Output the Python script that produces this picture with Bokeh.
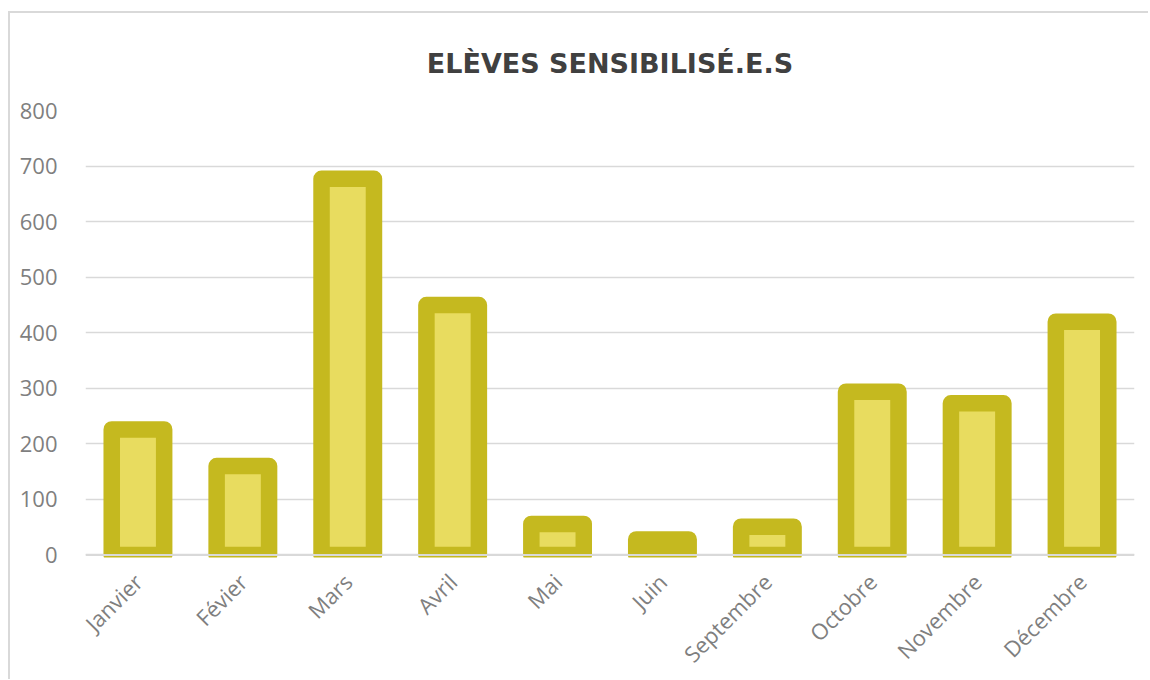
import math
from bokeh.plotting import figure
from bokeh.models import ColumnDataSource, Range1d, FixedTicker, Span
from bokeh.embed import file_html
from bokeh.resources import INLINE

months = ["Janvier", "Févier", "Mars", "Avril", "Mai", "Juin",
          "Septembre", "Octobre", "Novembre", "Décembre"]
values = [226, 160, 677, 450, 56, 28, 51, 294, 273, 420]
y_ticks = [0, 100, 200, 300, 400, 500, 600, 700, 800]
title_text = "ELÈVES SENSIBILISÉ.E.S"

src = ColumnDataSource(dict(month=months, value=values))

p = figure(x_range=months, y_range=Range1d(-4.5, 800),
           width=1140, height=668, output_backend="svg",
           toolbar_location=None, title=title_text,
           min_border_left=75, min_border_right=16,
           min_border_top=97, min_border_bottom=123)
p.styles = {"border-left": "2px solid #d9d9d9", "border-top": "2px solid #d9d9d9",
            "margin-top": "11px", "margin-left": "8px", "box-sizing": "border-box"}

p.vbar(x="month", top="value", bottom=0, width=0.5, source=src,
       fill_color="#E8DC5F", line_color="#C5B91F", line_width=16.5,
       line_join="round")

p.add_layout(Span(location=0, dimension="width", line_color="#d9d9d9",
                  line_width=2, level="overlay"))

p.title.align = "center"
p.title.text_font = "DejaVu Sans"
p.title.text_font_size = "27px"
p.title.text_font_style = "bold"
p.title.text_color = "#404040"
p.title.standoff = 63

p.outline_line_color = None
p.xgrid.grid_line_color = None
p.ygrid.grid_line_color = "#d9d9d9"
p.ygrid.grid_line_width = 1.5

p.yaxis.ticker = FixedTicker(ticks=y_ticks)
p.yaxis.axis_line_color = None
p.yaxis.major_tick_line_color = None
p.yaxis.minor_tick_line_color = None
p.yaxis.major_label_text_font = "Open Sans"
p.yaxis.major_label_text_font_size = "22px"
p.yaxis.major_label_text_color = "#7f7f7f"
p.yaxis.major_label_standoff = 22

p.xaxis.axis_line_color = None
p.xaxis.major_tick_line_color = None
p.xaxis.major_label_orientation = math.pi / 4
p.xaxis.major_label_text_font = "Open Sans"
p.xaxis.major_label_text_font_size = "22px"
p.xaxis.major_label_text_color = "#7f7f7f"
p.xaxis.major_label_standoff = 14

open("out.html", "w").write(file_html(p, INLINE))
